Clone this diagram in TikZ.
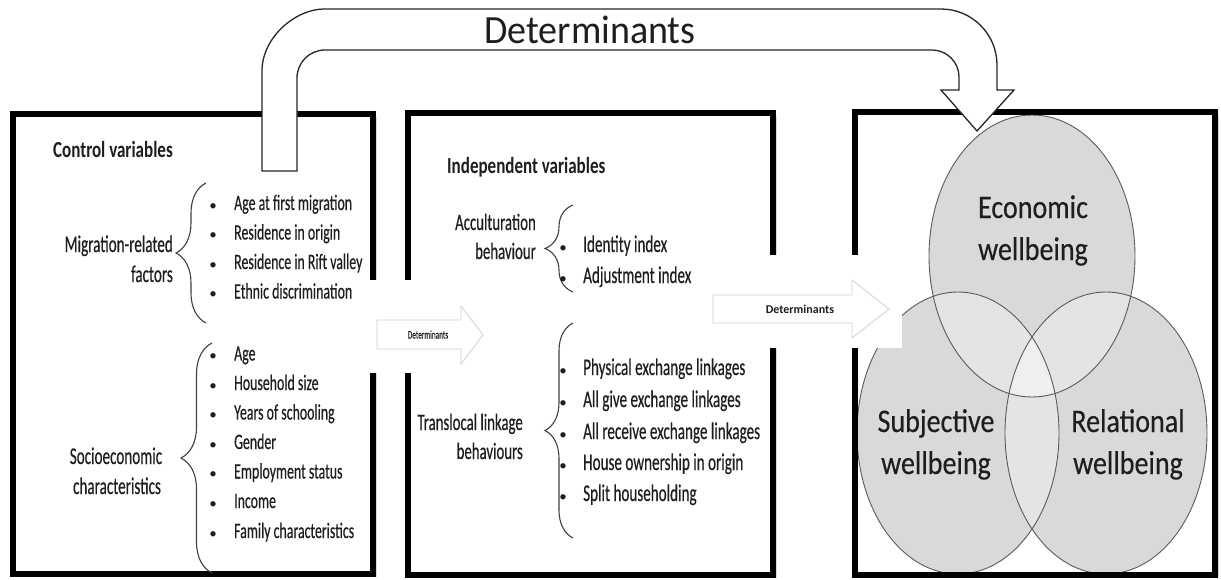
\documentclass[tikz,border=0pt]{standalone}
\usepackage{fontspec}
\setmainfont{Carlito}
\newfontfamily\nar{Carlito}[FakeStretch=0.63,FakeBold=0.35]
\newfontfamily\narh{Carlito}[FakeStretch=0.74]
\newfontfamily\cfont{Carlito}[FakeStretch=0.85,FakeBold=0.3]
\newfontfamily\tfont{Carlito}[FakeStretch=0.95]
\usetikzlibrary{decorations.pathreplacing,shadows}
\definecolor{txt}{HTML}{1E1E1E}
\definecolor{ell}{HTML}{D9D9D9}
\definecolor{ellb}{HTML}{E4E4E4}
\definecolor{ellc}{HTML}{EFEFEF}
\definecolor{ellline}{HTML}{5A5A5A}
\definecolor{faint}{HTML}{D0D0D0}
\begin{document}
\begin{tikzpicture}[x=1pt,y=-1pt,
  box/.style={draw=black,line width=6pt,fill=white,
    drop shadow={shadow xshift=4pt,shadow yshift=-3pt,opacity=0.3}},
  boxline/.style={draw=black,line width=6pt},
  brc/.style={decorate,decoration={brace,amplitude=#1},draw=black!75,line width=1.1pt},
  hd/.style={font=\narh\bfseries\fontsize{23}{28}\selectfont,text=txt,inner sep=0},
  lab/.style={font=\nar\fontsize{24}{28}\selectfont,text=txt,inner sep=0},
  mlab/.style={font=\nar\fontsize{23.5}{28}\selectfont,text=txt,inner sep=0},
  item/.style={font=\nar\fontsize{22}{26}\selectfont,text=txt,inner sep=0},
  mitem/.style={font=\nar\fontsize{24}{28}\selectfont,text=txt,inner sep=0},
  bul/.style={font=\fontsize{15}{18}\selectfont,text=txt,inner sep=0},
  ct/.style={font=\cfont\fontsize{33}{40}\selectfont,text=txt,inner sep=0,anchor=base},
  sarrow/.style={draw=faint,fill=white,line width=0.8pt},
  bigarrow/.style={draw=black!85,fill=white,line width=1.3pt},
  ellstyle/.style={draw=ellline,line width=0.9pt}
]
\useasboundingbox (0,0) rectangle (1221,579);

% boxes
\path[box] (12.5,113.5) rectangle (372.5,574);
\path[box] (407.5,112.5) rectangle (772.5,575);
\path[box] (854.5,111.5) rectangle (1215,575);

% ellipses
\coordinate (ce) at (1032,256);
\coordinate (cs) at (958,433);
\coordinate (cr) at (1106,433);
\fill[ell] (ce) ellipse (103 and 141);
\fill[ell] (cs) ellipse (101 and 141);
\fill[ell] (cr) ellipse (101 and 141);
\begin{scope}
  \clip (ce) ellipse (103 and 141);
  \fill[ellb] (cs) ellipse (101 and 141);
  \fill[ellb] (cr) ellipse (101 and 141);
\end{scope}
\begin{scope}
  \clip (cs) ellipse (101 and 141);
  \fill[ellb] (cr) ellipse (101 and 141);
\end{scope}
\begin{scope}
  \clip (ce) ellipse (103 and 141);
  \clip (cs) ellipse (101 and 141);
  \fill[ellc] (cr) ellipse (101 and 141);
\end{scope}
\draw[ellstyle] (ce) ellipse (103 and 141);
\draw[ellstyle] (cs) ellipse (101 and 141);
\draw[ellstyle] (cr) ellipse (101 and 141);
\path[boxline] (854.5,111.5) rectangle (1215,575);

% white patches behind the small arrows
\fill[white] (366,280) rectangle (495,373);
\fill[white] (705,255) rectangle (902,348);

% small arrows
\draw[sarrow] (377,320) -- (461,320) -- (461,306) -- (483,335) -- (461,364) -- (461,349) -- (377,349) -- cycle;
\node[font=\nar\fontsize{11.5}{13}\selectfont,anchor=base,inner sep=0,text=txt] (d1) at (428,338.5) {Determinants};
\draw[sarrow] (713,295) -- (852,295) -- (852,280) -- (889,309) -- (852,338) -- (852,323) -- (713,323) -- cycle;
\node[font=\bfseries\fontsize{12}{14}\selectfont,anchor=base,inner sep=0,text=txt] (d2) at (800,313) {Determinants};

% big curved arrow
\draw[bigarrow] (262,171) -- (262,71) .. controls (262,36.8) and (296.2,9) .. (324,9)
  -- (941,9) .. controls (971.9,9) and (997,34.1) .. (997,65)
  -- (997,90) -- (1014,90) -- (977,131) -- (941,90) -- (959,90)
  -- (959,77) .. controls (959,62.1) and (946.9,50) .. (932,50)
  -- (325,50) .. controls (309.5,50) and (297,62.5) .. (297,78)
  -- (297,171) -- cycle;
\node[font=\tfont\fontsize{40}{48}\selectfont,anchor=base,inner sep=0,text=txt] (title) at (590,43) {Determinants};

% braces
\draw[brc=30pt] (206,323) -- (206,183);
\draw[brc=31pt] (212,573) -- (212,343);
\draw[brc=28pt] (573,292) -- (573,205);
\draw[brc=28pt] (573,538) -- (573,323);

% headings
\node[hd,anchor=base west] (ctrl) at (53,157) {Control variables};
\node[hd,anchor=base west] (indep) at (447,173) {Independent variables};

% left labels
\node[lab,anchor=base east] (mig1) at (173,252) {Migration-related};
\node[lab,anchor=base east] (mig2) at (173,282) {factors};
\node[lab,anchor=base] (soc1) at (116,464) {Socioeconomic};
\node[lab,anchor=base] (soc2) at (117,494) {characteristics};

% left items
\foreach \y/\t/\n in {210/Age at first migration/a1, 239.5/Residence in origin/a2,
    269/Residence in Rift valley/a3, 298.5/Ethnic discrimination/a4,
    360.5/Age/b1, 390/Household size/b2, 419.5/Years of schooling/b3,
    449/Gender/b4, 478.5/Employment status/b5, 508/Income/b6,
    538/Family characteristics/b7}{
  \node[bul,anchor=base] (\n-bul) at (213,\y) {\textbullet};
  \node[item,anchor=base west] (\n) at (234,\y) {\t};
}

% middle labels
\node[mlab,anchor=base east] (acc1) at (536,230) {Acculturation};
\node[mlab,anchor=base east] (acc2) at (536,259) {behaviour};
\node[mlab,anchor=base east] (tl1) at (523,430) {Translocal linkage};
\node[mlab,anchor=base east] (tl2) at (523,459) {behaviours};

% middle items
\foreach \y/\t/\n in {252/Identity index/c1, 283/Adjustment index/c2,
    375/Physical exchange linkages/e1, 407/All give exchange linkages/e2,
    439/All receive exchange linkages/e3, 470/House ownership in origin/e4,
    501/Split householding/e5}{
  \node[bul,anchor=base] (\n-bul) at (563,\y) {\textbullet};
  \node[mitem,anchor=base west] (\n) at (583,\y) {\t};
}

% circle texts
\node[ct] (eco1) at (1033,218) {Economic};
\node[ct] (eco2) at (1033,260) {wellbeing};
\node[ct] (sub1) at (936,432) {Subjective};
\node[ct] (sub2) at (936,474) {wellbeing};
\node[ct] (rel1) at (1128,432) {Relational};
\node[ct] (rel2) at (1128,474) {wellbeing};
\end{tikzpicture}
\end{document}
